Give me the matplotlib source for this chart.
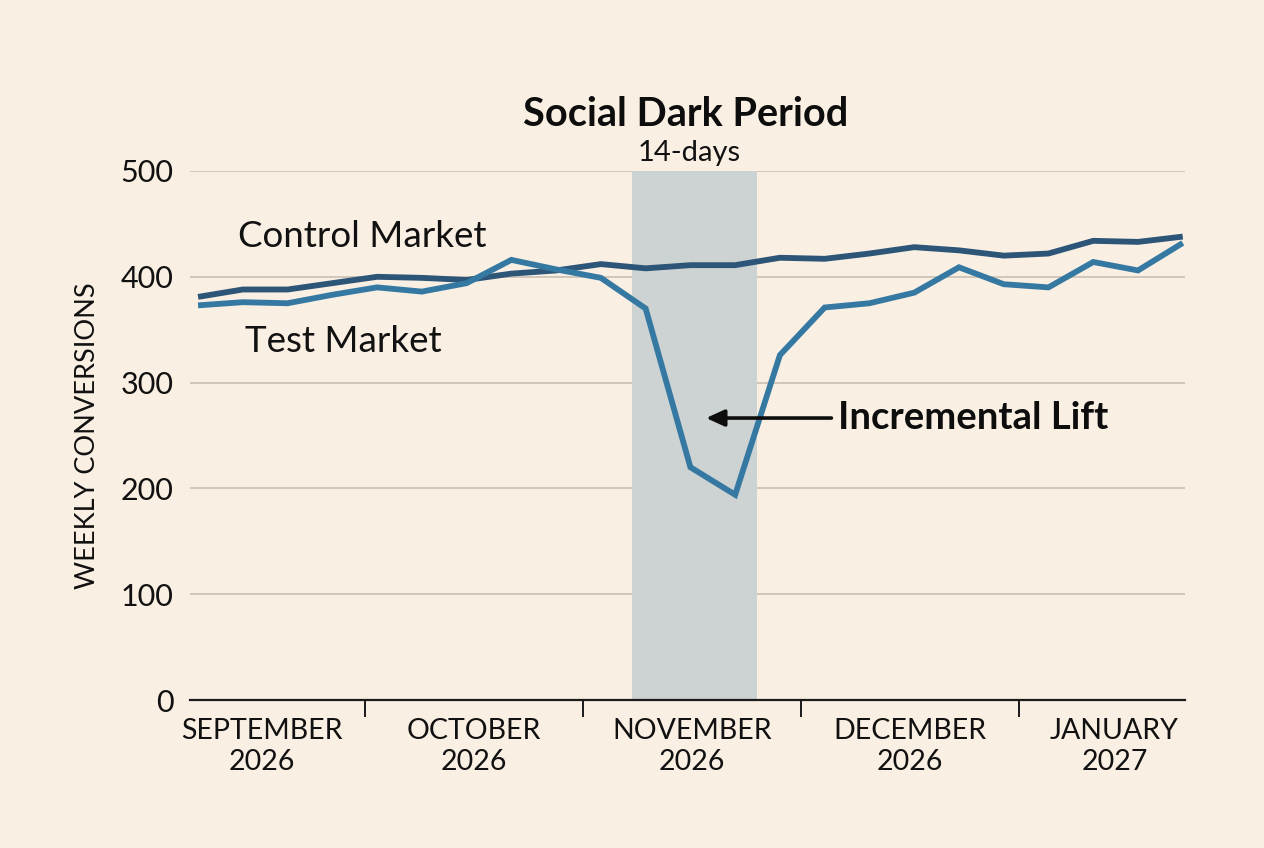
"""Social dark period: weekly conversions, test vs control market."""
import matplotlib
matplotlib.use('Agg')
import matplotlib.pyplot as plt

# --- data (weekly points) ---
weeks = list(range(23))
control = [381, 388, 388, 394, 400, 399, 397, 403, 406, 412, 408, 411,
           411, 418, 417, 422, 428, 425, 420, 422, 434, 433, 438]
test = [373, 376, 375, 383, 390, 386, 394, 416, 407, 399, 370, 220,
        194, 326, 371, 375, 385, 409, 393, 390, 414, 406, 432]
months = ['SEPTEMBER\n2026', 'OCTOBER\n2026', 'NOVEMBER\n2026',
          'DECEMBER\n2026', 'JANUARY\n2027']
y_ticks = [0, 100, 200, 300, 400, 500]
dark_start, dark_end = 9.69, 12.49

# --- layout ---
BG = '#FAEFE3'
CONTROL_C = '#2C5578'
TEST_C = '#3579A3'
month_len = 4.87
first_start = -1.14
boundaries = [first_start + month_len * k for k in range(1, len(months))]
label_pos = [first_start + month_len * (k + 0.5) for k in range(len(months))]
label_pos[0] += 0.13
label_pos[-1] -= 0.3

plt.rcParams['font.family'] = ['Lato', 'DejaVu Sans']

fig = plt.figure(figsize=(12.64, 8.48), dpi=100, facecolor=BG)
ax = fig.add_axes([190 / 1264, 1 - 700 / 848, 995 / 1264, 529 / 848])
ax.set_facecolor(BG)

ax.axvspan(dark_start, dark_end, color='#CDD2D2', zorder=1, lw=0)
for v in y_ticks[1:]:
    ax.axhline(v, color='#CBC0B4', lw=1.2, zorder=0)

ax.plot(weeks, control, color=CONTROL_C, lw=4.2, solid_joinstyle='miter',
        solid_capstyle='butt', zorder=3)
ax.plot(weeks, test, color=TEST_C, lw=4.2, solid_joinstyle='miter',
        solid_capstyle='butt', zorder=4)

ax.set_xlim(-0.18, 22.05)
ax.set_ylim(0, 500)

for s in ['top', 'right', 'left']:
    ax.spines[s].set_visible(False)
ax.spines['bottom'].set_color('#1a1a1a')
ax.spines['bottom'].set_linewidth(1.6)

ax.set_yticks(y_ticks)
ax.set_yticklabels([str(v) for v in y_ticks], fontsize=22, color='#111111')
ax.tick_params(axis='y', length=0, pad=12)

ax.set_xticks(boundaries)
ax.set_xticklabels([])
ax.tick_params(axis='x', which='major', length=12, width=1.4, color='#1a1a1a',
               direction='out')
ax.set_xticks(label_pos, minor=True)
ax.set_xticklabels(months, minor=True, fontsize=20.5, color='#111111',
                   linespacing=1.25)
ax.tick_params(axis='x', which='minor', length=0, pad=13)

ax.set_ylabel('WEEKLY CONVERSIONS', fontsize=19.5, color='#111111')
ax.yaxis.set_label_coords(-0.09, 0.5)

mid = (dark_start + dark_end) / 2
ax.text(mid - 0.2, 553, 'Social Dark Period', ha='center', va='center',
        fontsize=28.5, fontweight='bold', color='#0d0d0d')
ax.text(mid - 0.12, 517, '14-days', ha='center', va='center', fontsize=21,
        color='#111111')

ax.text(0.9, 438.5, 'Control Market', ha='left', va='center', fontsize=26.5,
        color='#111111')
ax.text(1.05, 339, 'Test Market', ha='left', va='center', fontsize=26.5,
        color='#111111')

ax.annotate('', xy=(11.35, 266.5), xytext=(14.15, 266.5),
            arrowprops=dict(arrowstyle='-|>,head_length=1.1,head_width=0.5',
                            color='#0d0d0d', lw=2.6, shrinkA=0, shrinkB=0),
            zorder=5)
ax.text(14.3, 266.5, 'Incremental Lift', ha='left', va='center', fontsize=27.5,
        fontweight='bold', color='#0d0d0d')

fig.savefig('out.png', dpi=100, facecolor=BG)
